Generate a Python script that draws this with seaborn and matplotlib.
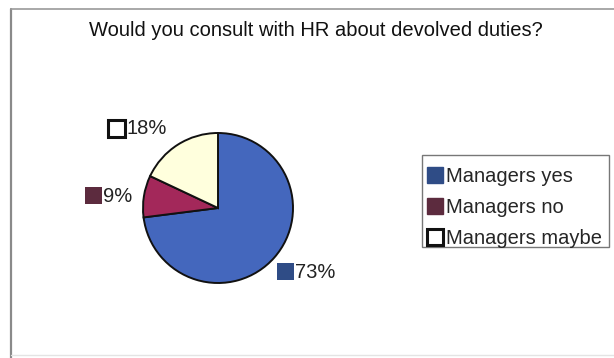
import matplotlib
matplotlib.use("Agg")
import matplotlib.pyplot as plt
from matplotlib.patches import Rectangle, Patch
import seaborn as sns

sns.set_theme(style="white")
plt.rcParams["font.family"] = ["Liberation Sans", "DejaVu Sans"]

categories = ["Managers yes", "Managers no", "Managers maybe"]
shares = [73, 9, 18]
label_texts = ["73%", "9%", "18%"]

slice_colors = ["#4467bd", "#a3285a", "#ffffdd"]
key_colors = ["#2f4c86", "#5c2b3e", "#ffffff"]

W, H = 614, 358
fig = plt.figure(figsize=(W / 100, H / 100), dpi=100)
fig.patch.set_facecolor("white")

# chart frame (left and top edges visible, faint bottom)
frame = fig.add_axes([0, 0, 1, 1], zorder=-1)
frame.set_xlim(0, W)
frame.set_ylim(H, 0)
frame.axis("off")
frame.plot([11, 11], [H, 9], color="#8a8a8a", lw=1.6)
frame.plot([11, W], [9, 9], color="#9a9a9a", lw=1.2)
frame.plot([11, W], [355, 355], color="#e4e4e4", lw=1.0)

fig.text(316 / W, 1 - 31 / H, "Would you consult with HR about devolved duties?",
         ha="center", va="center", fontsize=14.5, color="#111111")

# pie
cx, cy, r = 218, 208, 75
ax = fig.add_axes([(cx - r) / W, 1 - (cy + r) / H, 2 * r / W, 2 * r / H])
ax.pie(shares, colors=slice_colors, startangle=90, counterclock=False,
       wedgeprops=dict(edgecolor="#111111", linewidth=1.4), radius=1.0)
ax.set_xlim(-1, 1)
ax.set_ylim(-1, 1)
ax.set_aspect("auto")

# value labels with colour keys, in pixel coordinates
label_pos = [(277, 271), (85, 195), (108, 128)]
sq = 17
for (px, py), txt, kc in zip(label_pos, label_texts, key_colors):
    white = kc == "#ffffff"
    ec = "#111111" if white else kc
    lw = 2.2 if white else 0
    frame.add_patch(Rectangle((px, py - sq / 2), sq, sq, facecolor=kc,
                              edgecolor=ec, lw=lw))
    frame.text(px + sq + 1, py + 1, txt, ha="left", va="center",
               fontsize=14.5, color="#222222")

# legend box
frame.add_patch(Rectangle((422, 155), 187, 92, facecolor="white",
                          edgecolor="#777777", lw=1.0))

# legend entries
handles = []
for c, kc in zip(categories, key_colors):
    if kc == "#ffffff":
        handles.append(Patch(facecolor=kc, edgecolor="#111111", lw=2.2, label=c))
    else:
        handles.append(Patch(facecolor=kc, edgecolor=kc, label=c))
leg = fig.legend(handles=handles, loc="upper left",
                 bbox_to_anchor=(427 / W, 1 - 167 / H),
                 frameon=False, fontsize=14.5,
                 handlelength=0.8, handleheight=0.8, handletextpad=0.15,
                 labelspacing=0.6, borderpad=0, borderaxespad=0)

fig.savefig("out.png", dpi=100)
